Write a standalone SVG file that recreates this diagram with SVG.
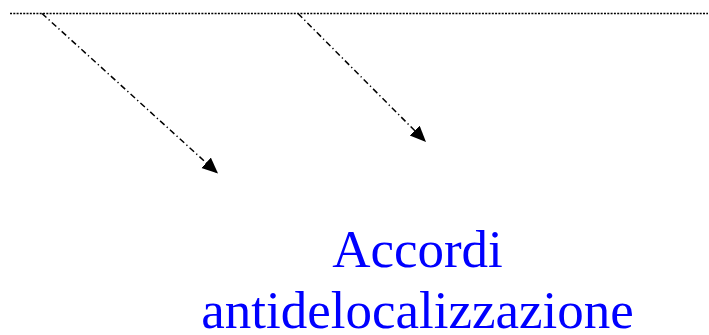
<svg xmlns="http://www.w3.org/2000/svg" width="709" height="335" viewBox="0 0 709 335">
  <defs>
    <marker id="ah" markerUnits="userSpaceOnUse" markerWidth="18" markerHeight="15" refX="16" refY="7" orient="auto">
      <path d="M0,0 L16,7 L0,14 Z" fill="#000"/>
    </marker>
    <style>
      .dotted { stroke: #000; stroke-width: 1.5; stroke-dasharray: 2 1.3; fill: none; }
      .dashdot { stroke: #000; stroke-width: 1.5; stroke-dasharray: 6 3 1.3 3; fill: none; marker-end: url(#ah); }
      .label { font-family: "Liberation Serif", "Times New Roman", serif; font-size: 53px; fill: #0000ff; text-anchor: middle; }
    </style>
  </defs>
  <g id="baseline">
    <line class="dotted" x1="10" y1="13.5" x2="708" y2="13.5"/>
  </g>
  <g id="connectors">
    <line class="dashdot" x1="42" y1="13.5" x2="218" y2="173.5"/>
    <line class="dashdot" x1="298" y1="13.5" x2="426" y2="142"/>
  </g>
  <g id="label">
    <text class="label" x="417.5" y="267">Accordi</text>
    <text class="label" x="417.5" y="328">antidelocalizzazione</text>
  </g>
</svg>
